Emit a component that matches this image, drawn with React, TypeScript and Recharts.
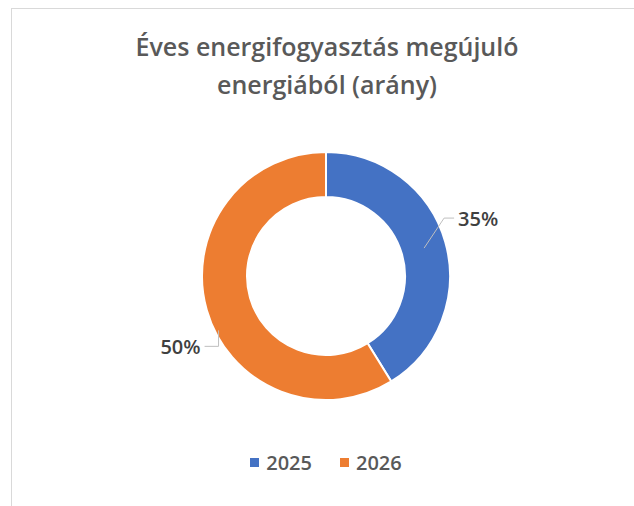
import { Cell, Legend, Pie, PieChart } from 'recharts';

const categories = ['2025', '2026'];
const values = [35, 50];
const colors = ['#4472C4', '#ED7D31'];
const labelTexts = ['35%', '50%'];

const data = categories.map((name, i) => ({ name, value: values[i] }));

const RAD = Math.PI / 180;
const FONT = 'Open Sans, sans-serif';

function renderLabel(props: any) {
  const { cx, cy, midAngle, outerRadius, index } = props;
  const cos = Math.cos(-midAngle * RAD);
  const sin = Math.sin(-midAngle * RAD);
  if (index === 0) {
    const sx = cx + (outerRadius - 22) * cos;
    const sy = cy + (outerRadius - 22) * sin;
    const ex = sx + 20;
    const ey = sy - 30;
    return (
      <g>
        <polyline points={`${sx},${sy} ${ex},${ey} ${ex + 10},${ey}`} fill="none" stroke="#BFBFBF" strokeWidth={1} />
        <text x={ex + 14} y={ey} fill="#404040" fontSize={20} fontWeight={600} fontFamily={FONT} dominantBaseline="central">
          {labelTexts[index]}
        </text>
      </g>
    );
  }
  const sx = cx + outerRadius * Math.cos(-154 * RAD) + 4;
  const sy = cy - outerRadius * Math.sin(-154 * RAD);
  const ey = sy + 16;
  return (
    <g>
      <polyline points={`${sx},${sy} ${sx},${ey} ${sx - 14},${ey}`} fill="none" stroke="#BFBFBF" strokeWidth={1} />
      <text x={sx - 18} y={ey} fill="#404040" fontSize={20} fontWeight={600} fontFamily={FONT} textAnchor="end" dominantBaseline="central">
        {labelTexts[index]}
      </text>
    </g>
  );
}

function renderLegend() {
  return (
    <div style={{ display: 'flex', justifyContent: 'center', gap: 28, fontFamily: FONT, fontSize: 20, fontWeight: 600, color: '#595959' }}>
      {categories.map((c, i) => (
        <div key={c} style={{ display: 'flex', alignItems: 'center', gap: 7 }}>
          <span style={{ width: 9, height: 9, background: colors[i], display: 'inline-block' }} />
          <span>{c}</span>
        </div>
      ))}
    </div>
  );
}

export default function App() {
  return (
    <div style={{ position: 'absolute', left: 0, top: 0, width: 634, height: 506, background: '#fff' }}>
      <div style={{ position: 'absolute', left: 11, top: 8, width: 640, height: 500, border: '1px solid #D9D9D9', boxSizing: 'border-box' }} />
      <div
        style={{
          position: 'absolute',
          left: 0,
          top: 27,
          width: 654,
          textAlign: 'center',
          fontFamily: FONT,
          fontSize: 25,
          fontWeight: 600,
          lineHeight: '38px',
          color: '#595959',
        }}
      >
        Éves energifogyasztás megújuló
        <br />
        energiából (arány)
      </div>
      <div style={{ position: 'absolute', left: 0, top: 0 }}>
        <PieChart width={652} height={506} margin={{ top: 0, right: 0, bottom: 0, left: 0 }}>
          <Pie
            data={data}
            dataKey="value"
            nameKey="name"
            cx={326}
            cy={276}
            innerRadius={79}
            outerRadius={124}
            startAngle={90}
            endAngle={-270}
            stroke="#fff"
            strokeWidth={2}
            label={renderLabel}
            labelLine={false}
            isAnimationActive={false}
          >
            {data.map((d, i) => (
              <Cell key={d.name} fill={colors[i]} />
            ))}
          </Pie>
          <Legend content={renderLegend} wrapperStyle={{ position: 'absolute', top: 449, left: 0, width: 652 }} />
        </PieChart>
      </div>
    </div>
  );
}
